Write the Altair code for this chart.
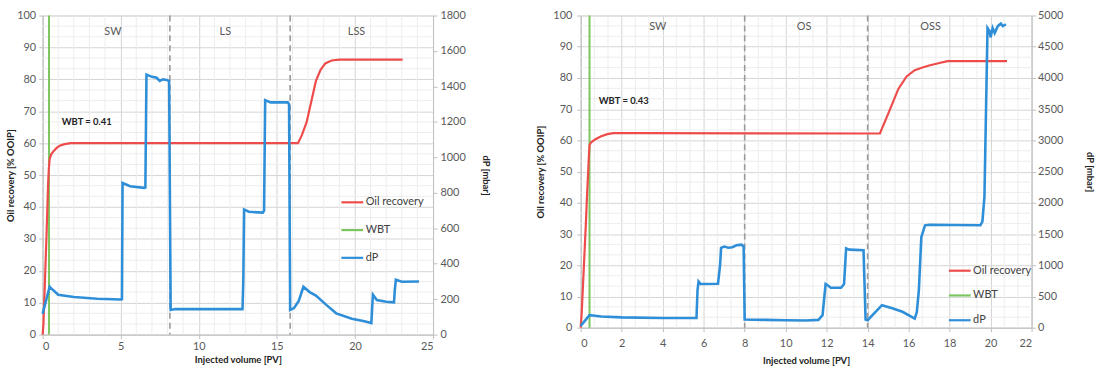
import altair as alt
import pandas as pd

# ---------------- data: left panel (SW / LS / LSS) ----------------
L_or_x = [0, 0.05, 0.1, 0.15, 0.2, 0.25, 0.3, 0.35, 0.4, 0.45, 0.55, 0.7, 0.9, 1.1, 1.4, 1.8,
          8, 16.35, 16.6, 16.9, 17.2, 17.5, 17.8, 18.1, 18.5, 19.0, 23.05]
L_or_y = [0, 3, 10, 17, 24, 31, 39, 47, 52, 55, 56.5, 57.5, 58.5, 59.2, 59.7, 60,
          60, 60, 62.5, 66.5, 73, 79.5, 83, 85, 85.9, 86.2, 86.2]
L_dp_x = [0, 0.45, 0.5, 1.0, 2.0, 3.5, 5.0, 5.08, 5.12, 5.6, 6.5, 6.58, 6.65, 7.0, 7.3, 7.5, 7.7,
          8.0, 8.1, 8.2, 8.5, 12.8, 12.85, 12.9, 13.2, 14.1, 14.18, 14.25, 14.6, 15.7, 15.78,
          15.85, 16.1, 16.4, 16.7, 17.1, 17.5, 18.2, 18.8, 19.8, 20.6, 21.05, 21.1, 21.15, 21.4,
          22.0, 22.5, 22.55, 22.62, 23.0, 24.1]
L_dp_y = [117, 270, 265, 225, 212, 202, 198, 200, 855, 837, 828, 830, 1467, 1454, 1449, 1431, 1440,
          1435, 1430, 139, 144, 144, 300, 706, 693, 688, 700, 1323, 1310, 1310, 1300,
          139, 150, 190, 270, 240, 220, 165, 120, 90, 75, 65, 150, 225, 195,
          185, 182, 250, 310, 298, 300]
L_wbt = 0.41
L_dash = [8.15, 15.85]
L_sec = ["SW", "LS", "LSS"]
L_sec_x = [4.5, 11.7, 20.1]
L_sec_y = [94.7, 94.7, 94.7]
L_wbt_text = "WBT = 0.41"
L_wbt_tx, L_wbt_ty = 1.22, 66.5

# ---------------- data: right panel (SW / OS / OSS) ----------------
R_or_x = [0, 0.05, 0.1, 0.15, 0.2, 0.25, 0.3, 0.35, 0.4, 0.43, 0.5, 0.7, 1.0, 1.3, 1.6, 3.0,
          14.6, 15.0, 15.5, 15.9, 16.3, 16.6, 17.0, 17.5, 17.9, 20.8]
R_or_y = [0, 5, 12, 19, 26, 33, 41, 48, 55, 58.5, 59.3, 60.3, 61.3, 62, 62.3, 62.3,
          62.2, 68.5, 76.5, 80.5, 82.5, 83.2, 84, 84.8, 85.4, 85.4]
R_dp_x = [0, 0.43, 0.6, 1.0, 2.0, 4.0, 5.65, 5.7, 5.75, 5.85, 6.0, 6.7, 6.8, 6.85, 7.0, 7.2, 7.4,
          7.6, 7.85, 7.95, 8.0, 9.0, 10.0, 11.0, 11.6, 11.8, 11.95, 12.05, 12.2, 12.7, 12.85,
          12.95, 13.1, 13.8, 13.9, 14.0, 14.7, 15.2, 15.7, 16.3, 16.4, 16.5, 16.62, 16.8, 17.0,
          19.5, 19.6, 19.7, 19.85, 19.95, 20.0, 20.1, 20.2, 20.35, 20.5, 20.6, 20.75]
R_dp_y = [30, 200, 195, 180, 165, 155, 155, 600, 740, 700, 700, 705, 1000, 1280, 1300, 1280, 1290,
          1320, 1330, 1300, 130, 125, 120, 115, 125, 200, 700, 680, 640, 640, 700,
          1270, 1250, 1240, 130, 120, 360, 310, 255, 145, 250, 600, 1450, 1640, 1650,
          1640, 1700, 2100, 4800, 4750, 4650, 4800, 4720, 4830, 4870, 4830, 4860]
R_wbt = 0.43
R_dash = [8.0, 14.0]
R_sec = ["SW", "OS", "OSS"]
R_sec_x = [3.76, 10.9, 17.07]
R_sec_y = [96.4, 96.4, 96.4]
R_wbt_text = "WBT = 0.43"
R_wbt_tx, R_wbt_ty = 0.88, 72.6

SERIES = ["Oil recovery", "WBT", "dP"]
COLORS = ["#EE4B4B", "#7CC55E", "#2E8FD8"]
FONT = "Lato"
MAJ = "#d4d4d4"
MIN = "#ededed"


def frange(a, b, step):
    out, i = [], 0
    while a + i * step <= b + 1e-9:
        out.append(round(a + i * step, 6))
        i += 1
    return out


def minor_only(vals, major):
    return [v for v in vals if abs(v - round(v / major) * major) > 1e-3]


def panel(or_x, or_y, dp_x, dp_y, wbt, dash, sec, sec_x, sec_y, wtxt, wtx, wty,
          xmax, xmajor, xminor, dpmax, dpstep, width, height,
          lx, ly, lrow, xlabpad, xtitlepad, ylabpad, ytitlepad, rlabpad, rtitlepad):
    oil = pd.DataFrame({"x": or_x, "y": or_y, "series": "Oil recovery"})
    dp = pd.DataFrame({"x": dp_x, "y": dp_y, "series": "dP"})
    wb = pd.DataFrame({"x": [wbt], "series": ["WBT"]})
    dd = pd.DataFrame({"x": dash})
    st = pd.DataFrame({"x": sec_x, "y": sec_y, "t": sec})
    wt = pd.DataFrame({"x": [wtx], "y": [wty], "t": [wtxt]})
    gx = pd.DataFrame({"x": minor_only(frange(0, xmax, xminor), xmajor)})
    gy = pd.DataFrame({"y": minor_only(frange(0, 100, 10 / 3), 10)})

    xaxis = alt.Axis(
        values=frange(0, xmax, xmajor), format="d",
        title="Injected volume [PV]", titleFontWeight="bold", titleFontSize=9.5,
        titleColor="#222", titlePadding=xtitlepad, labelFontSize=11, labelColor="#595959",
        labelPadding=xlabpad, labelOverlap=False, labelFont=FONT, titleFont=FONT,
        grid=True, gridColor=MAJ, tickColor="#bfbfbf", tickSize=4, domainColor="#bfbfbf")
    xs = alt.Scale(domain=[0, xmax], nice=False, zero=False)
    X = alt.X("x:Q", scale=xs, axis=xaxis)

    yaxis = alt.Axis(
        values=frange(0, 100, 10), format="d",
        title="Oil recovery [% OOIP]", titleFontWeight="bold", titleFontSize=9.5,
        titleColor="#222", titlePadding=ytitlepad, labelFontSize=11, labelColor="#595959",
        labelPadding=ylabpad, labelOverlap=False, labelFont=FONT, titleFont=FONT,
        grid=True, gridColor=MAJ, tickColor="#bfbfbf", tickSize=4, domainColor="#bfbfbf")
    ys = alt.Scale(domain=[0, 100], nice=False)

    def Y(field="y:Q"):
        return alt.Y(field, scale=ys, axis=yaxis)

    color = alt.Color(
        "series:N", scale=alt.Scale(domain=SERIES, range=COLORS),
        legend=alt.Legend(title=None, orient="none", legendX=lx, legendY=ly,
                          symbolType="stroke", symbolSize=484, symbolStrokeWidth=2.2,
                          labelFontSize=11, labelColor="#404040", labelFont=FONT,
                          rowPadding=lrow, padding=0, labelOffset=1))

    gridx = alt.Chart(gx).mark_rule(color=MIN, strokeWidth=1).encode(x=X)
    gridy = alt.Chart(gy).mark_rule(color=MIN, strokeWidth=1).encode(y=Y())
    dashes = alt.Chart(dd).mark_rule(color="#9a9a9a", strokeDash=[6, 4], strokeWidth=1.6).encode(x=X)
    wbt_rule = alt.Chart(wb).mark_rule(strokeWidth=2).encode(x=X, color=color)
    oil_line = alt.Chart(oil).mark_line(strokeWidth=2.2).encode(x=X, y=Y(), color=color, order="x:Q")
    sec_text = alt.Chart(st).mark_text(fontSize=11, color="#595959", font=FONT).encode(
        x=X, y=Y(), text="t:N")
    wbt_text = alt.Chart(wt).mark_text(fontSize=9.5, fontWeight="bold", color="#222",
                                       align="left", font=FONT).encode(x=X, y=Y(), text="t:N")
    left_layer = alt.layer(gridx, gridy, dashes, wbt_rule, oil_line, sec_text, wbt_text)

    raxis = alt.Axis(
        orient="right", values=frange(0, dpmax, dpstep), format="d", title="dP [mbar]",
        titleFontWeight="bold", titleFontSize=9.5, titleColor="#222", titlePadding=rtitlepad,
        labelFontSize=11, labelColor="#595959", labelPadding=rlabpad, labelFont=FONT,
        titleFont=FONT, grid=False, tickSize=4, tickColor="#bfbfbf", domainColor="#bfbfbf")
    dp_line = alt.Chart(dp).mark_line(strokeWidth=2.6).encode(
        x=X, y=alt.Y("y:Q", scale=alt.Scale(domain=[0, dpmax], nice=False), axis=raxis),
        color=color, order="x:Q")

    return alt.layer(left_layer, dp_line).resolve_scale(y="independent").properties(
        width=width, height=height)


left = panel(L_or_x, L_or_y, L_dp_x, L_dp_y, L_wbt, L_dash, L_sec, L_sec_x, L_sec_y,
             L_wbt_text, L_wbt_tx, L_wbt_ty, 25, 5, 1, 1800, 200, 394, 322,
             300, 176, 10, 2, 3, 3, 1, 3, 15)
right = panel(R_or_x, R_or_y, R_dp_x, R_dp_y, R_wbt, R_dash, R_sec, R_sec_x, R_sec_y,
              R_wbt_text, R_wbt_tx, R_wbt_ty, 22, 2, 2 / 3, 5000, 500, 455, 315,
              370, 245, 7, 6, 7, 5, 7, 2, 22)

chart = alt.hconcat(left, right, spacing=44).resolve_scale(color="independent").properties(
    padding={"left": 5, "top": 7, "right": 0, "bottom": 0}
).configure_view(stroke=None).configure(background="white")

chart.save("out.html", embed_options={"renderer": "svg", "actions": False})
